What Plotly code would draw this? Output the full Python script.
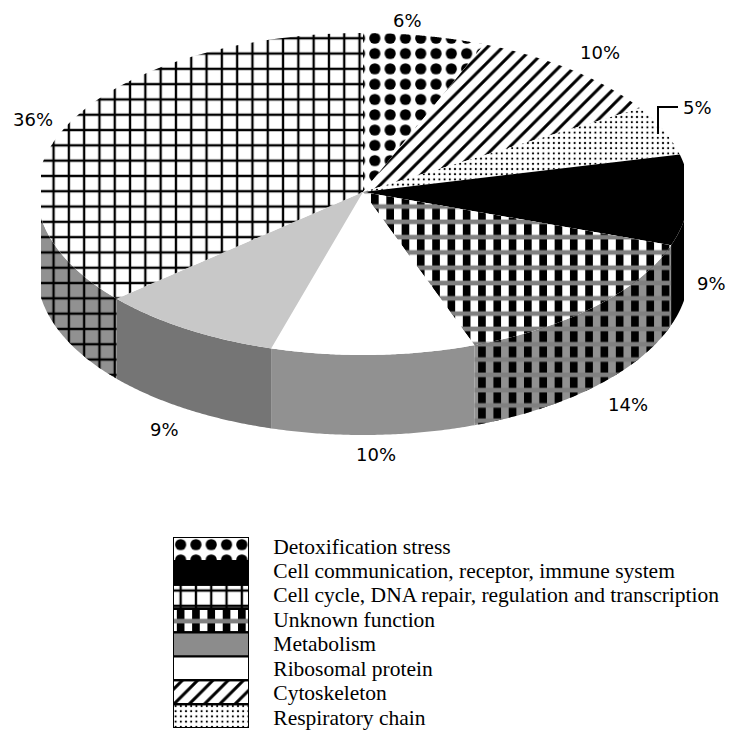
import numpy as np
import plotly.graph_objects as go

# ---- data (clockwise from 12 o'clock) ----
slice_names = ["Detoxification stress", "Cytoskeleton", "Respiratory chain",
               "Cell communication, receptor, immune system", "Unknown function",
               "Ribosomal protein", "Metabolism",
               "Cell cycle, DNA repair, regulation and transcription"]
slice_percent = [6, 10, 5, 9, 14, 10, 9, 36]
legend_order = ["Detoxification stress", "Cell communication, receptor, immune system",
                "Cell cycle, DNA repair, regulation and transcription", "Unknown function",
                "Metabolism", "Ribosomal protein", "Cytoskeleton", "Respiratory chain"]

# ---- geometry and style ----
W, H = 753, 733
CX, CY, RX, RY_BACK, RY_FRONT, DEPTH = 363, 192, 326, 159, 163, 80
X_MIN, X_MAX = 41, 684
LABEL_POS = [(407, 20), (600, 52), (697, 107), (711, 283), (628, 404), (376, 454), (164, 429), (33, 119)]
NONE = "rgba(0,0,0,0)"


def pat(shape, size, solidity, fg="black"):
    return dict(shape=shape, size=size, solidity=solidity, fgcolor=fg, bgcolor=NONE, fillmode="replace")


GRID = pat("+", 15.3, 0.28)
CHECK = [pat("|", 15.3, 0.5), pat("-", 15.3, 0.3, "#808080")]
STYLE = {  # top colour, side colour, legend colour, pattern layers
    "Detoxification stress": ("white", "white", "white", [pat(".", 15.3, 0.42)]),
    "Cytoskeleton": ("white", "white", "white", [pat("/", 10.8, 0.28)]),
    "Respiratory chain": ("white", "white", "white", [pat(".", 5.2, 0.14)]),
    "Cell communication, receptor, immune system": ("black", "black", "black", []),
    "Unknown function": ("white", "#919191", "white", CHECK),
    "Ribosomal protein": ("white", "#919191", "white", []),
    "Metabolism": ("#c8c8c8", "#757575", "#8c8c8c", []),
    "Cell cycle, DNA repair, regulation and transcription": ("white", "#919191", "white", [GRID]),
}


def ex(t):
    return np.clip(CX + RX * np.sin(t), X_MIN, X_MAX)


def ey(t, dz=0):
    c = np.cos(t)
    return CY - np.where(c > 0, RY_BACK, RY_FRONT) * c + dz


def poly(x, y, fill, layers):
    out = [go.Scatter(x=x, y=y, fill="toself", mode="none", fillcolor=fill, hoverinfo="skip", showlegend=False)]
    for p in layers:
        out.append(go.Scatter(x=x, y=y, fill="toself", mode="none", fillcolor=NONE, fillpattern=p,
                              hoverinfo="skip", showlegend=False))
    return out


fig = go.Figure()
fractions = np.array(slice_percent, float) / sum(slice_percent)
edges = np.concatenate([[0], np.cumsum(fractions)]) * 2 * np.pi

# walls of the front half first
for i, name in enumerate(slice_names):
    a, b = max(edges[i], np.pi / 2), min(edges[i + 1], 3 * np.pi / 2)
    if b <= a:
        continue
    t = np.linspace(a, b, 80)
    x = np.concatenate([ex(t), ex(t[::-1])])
    y = np.concatenate([ey(t), ey(t[::-1], DEPTH)])
    for tr in poly(x, y, STYLE[name][1], STYLE[name][3]):
        fig.add_trace(tr)

# top face
for i, name in enumerate(slice_names):
    t = np.linspace(edges[i], edges[i + 1], 120)
    x = np.concatenate([[CX], ex(t), [CX]])
    y = np.concatenate([[CY], ey(t), [CY]])
    for tr in poly(x, y, STYLE[name][0], STYLE[name][3]):
        fig.add_trace(tr)

# percent labels
for pct, (lx, ly) in zip(slice_percent, LABEL_POS):
    fig.add_annotation(x=lx, y=ly, text=f"{pct}%", showarrow=False, xref="x", yref="y",
                       font=dict(family="DejaVu Sans", size=18, color="black"))

# leader of the 5% label
fig.add_shape(type="path", path="M 658 134 L 658 107 L 678 107", xref="x", yref="y",
              line=dict(color="black", width=2))

# legend swatches as bars on their own axes
rows = list(range(len(legend_order)))
for r, name in zip(rows, legend_order):
    col = STYLE[name][2]
    fig.add_trace(go.Bar(x=[1], y=[r], width=1, orientation="h", xaxis="x2", yaxis="y2",
                         marker=dict(color=col, line=dict(color="black", width=2)),
                         hoverinfo="skip", showlegend=False, cliponaxis=False))
    for p in STYLE[name][3]:
        fig.add_trace(go.Bar(x=[1], y=[r], width=1, orientation="h", xaxis="x2", yaxis="y2",
                             marker=dict(color=NONE, pattern=p, line=dict(color="black", width=2)),
                             hoverinfo="skip", showlegend=False, cliponaxis=False))

L_TOP, L_BOT, L_LEFT, L_RIGHT = 537, 728, 173, 249
row_h = (L_BOT - L_TOP) / len(rows)
tick_pos = [(546 + 24.43 * r - L_TOP) / row_h - 0.5 for r in rows]

fig.update_layout(
    width=W, height=H, margin=dict(l=0, r=0, t=0, b=0), paper_bgcolor="white", plot_bgcolor="rgba(0,0,0,0)",
    barmode="overlay", showlegend=False,
    xaxis=dict(range=[0, W], visible=False, domain=[0, 1], fixedrange=True),
    yaxis=dict(range=[H, 0], visible=False, domain=[0, 1], fixedrange=True),
    xaxis2=dict(range=[0, 1], visible=False, domain=[L_LEFT / W, L_RIGHT / W], anchor="y2", fixedrange=True),
    yaxis2=dict(range=[len(rows) - 0.5, -0.5], domain=[1 - L_BOT / H, 1 - L_TOP / H], anchor="x2", side="right",
                tickmode="array", tickvals=tick_pos, ticktext=legend_order, ticks="outside", ticklen=19,
                tickcolor=NONE, showgrid=False, zeroline=False, showline=False, automargin=False, fixedrange=True,
                tickfont=dict(family="Liberation Serif", size=21.5, color="black")),
)
fig.write_html("out.html", config={"displayModeBar": False},
               post_script="document.body.style.margin='0';document.body.style.overflow='hidden';")
